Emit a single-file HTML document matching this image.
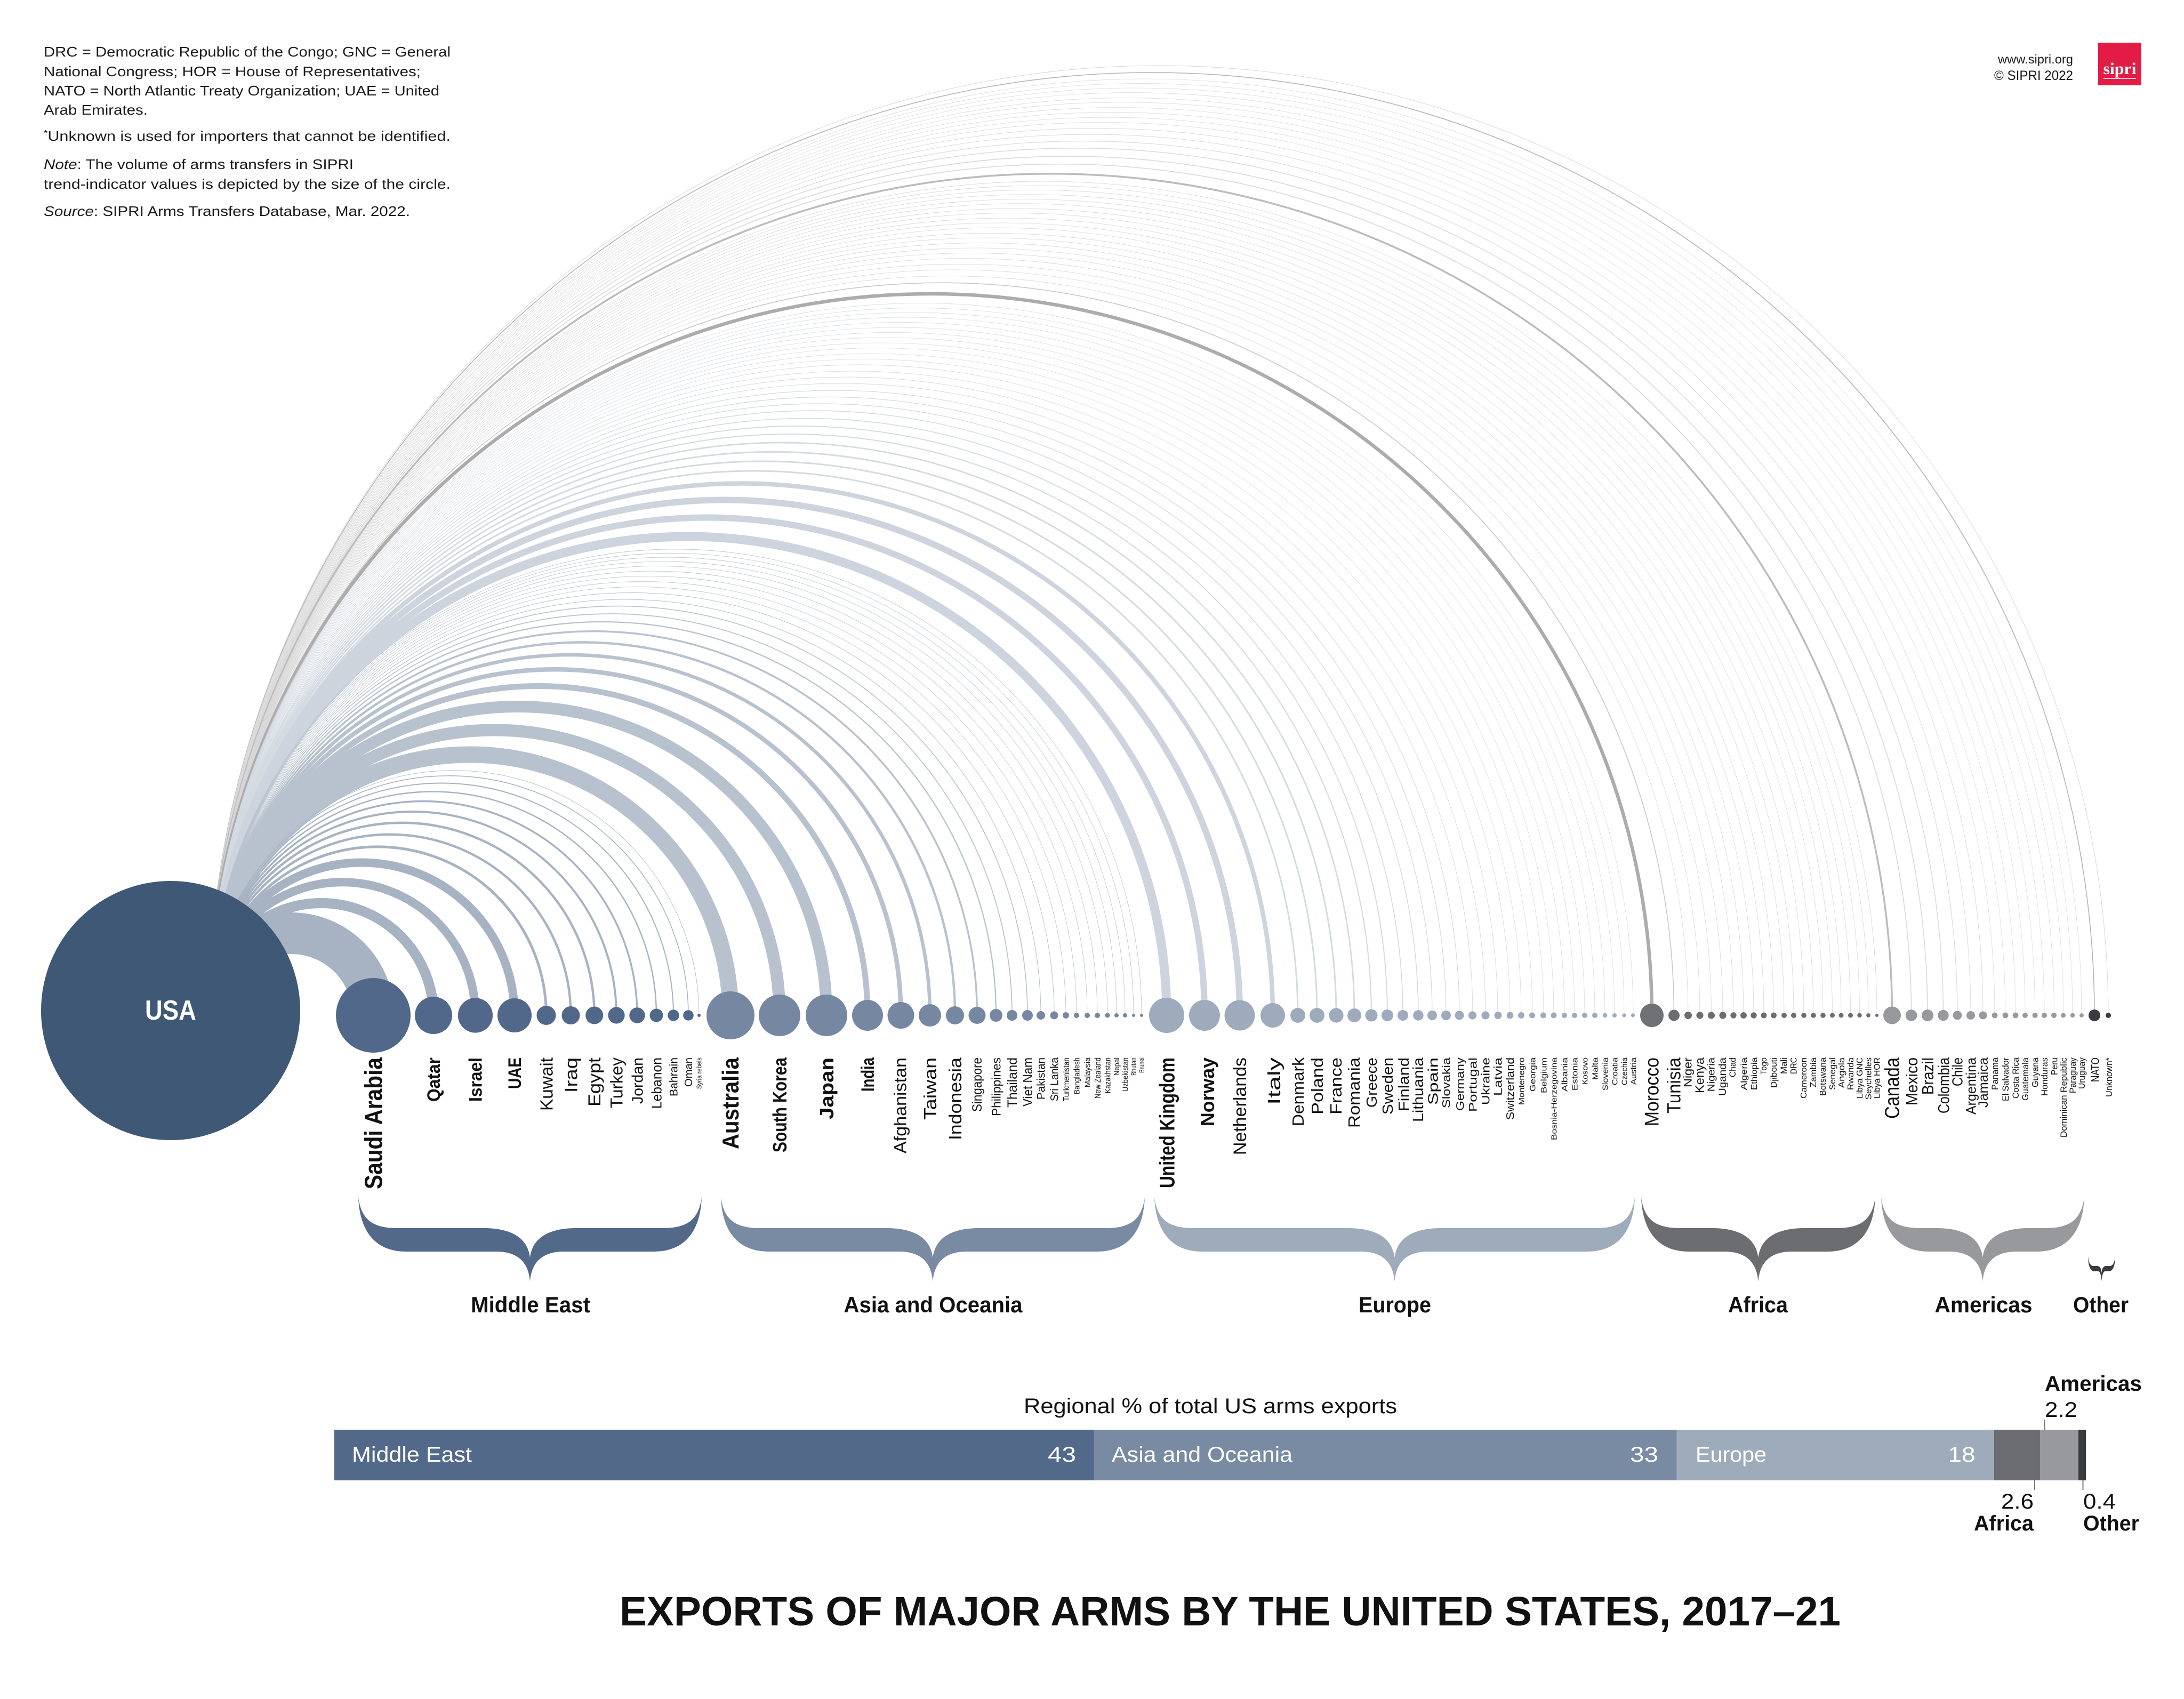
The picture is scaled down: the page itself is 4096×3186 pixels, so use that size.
<!DOCTYPE html>
<html>
<head>
<meta charset="utf-8">
<style>
html,body{margin:0;padding:0;background:#fff;}
svg{display:block;}
</style>
</head>
<body>
<svg xmlns="http://www.w3.org/2000/svg" width="4096" height="3186" viewBox="0 0 4096 3186" font-family="'Liberation Sans', Arial, sans-serif">
<rect width="4096" height="3186" fill="#fff"/>

<!-- Notes top-left -->
<g font-size="26" fill="#1a1a1a">
<text x="82" y="106" textLength="763" lengthAdjust="spacingAndGlyphs">DRC = Democratic Republic of the Congo; GNC = General</text>
<text x="82" y="143" textLength="707" lengthAdjust="spacingAndGlyphs">National Congress; HOR = House of Representatives;</text>
<text x="82" y="179" textLength="742" lengthAdjust="spacingAndGlyphs">NATO = North Atlantic Treaty Organization; UAE = United</text>
<text x="82" y="215" textLength="195" lengthAdjust="spacingAndGlyphs">Arab Emirates.</text>
<text x="82" y="264" textLength="763" lengthAdjust="spacingAndGlyphs"><tspan font-size="16" dy="-9">*</tspan><tspan dy="9">Unknown is used for importers that cannot be identified.</tspan></text>
<text x="82" y="317" textLength="581" lengthAdjust="spacingAndGlyphs"><tspan font-style="italic">Note</tspan>: The volume of arms transfers in SIPRI</text>
<text x="82" y="354" textLength="763" lengthAdjust="spacingAndGlyphs">trend-indicator values is depicted by the size of the circle.</text>
<text x="82" y="405" textLength="687" lengthAdjust="spacingAndGlyphs"><tspan font-style="italic">Source</tspan>: SIPRI Arms Transfers Database, Mar. 2022.</text>
</g>

<!-- Top right -->
<g fill="#1a1a1a" text-anchor="end">
<text x="3888" y="119" font-size="23" textLength="141" lengthAdjust="spacingAndGlyphs">www.sipri.org</text>
<text x="3888" y="150" font-size="25" textLength="148" lengthAdjust="spacingAndGlyphs">© SIPRI 2022</text>
</g>
<rect x="3935" y="80" width="81" height="80" fill="#e31c46"/>
<text x="3975.5" y="139" font-size="31" font-weight="bold" fill="#fff" text-anchor="middle" font-family="'Liberation Serif', serif" textLength="62" lengthAdjust="spacingAndGlyphs">sipri</text>
<line x1="3945" y1="147" x2="4006" y2="147" stroke="#fff" stroke-width="1.5"/>

<!-- ARCS (outer first) -->
<g fill="none">
<!-- Other -->
<path d="M392 1904A1781 1781 0 0 1 3954 1904" stroke="#d4d4d4" stroke-width="0.9"/>
<path d="M392 1904A1768 1768 0 0 1 3928 1904" stroke="#b4b4b4" stroke-width="1.6"/>
<!-- Americas -->
<g stroke="#dadada">
<path d="M392 1904A1756 1756 0 0 1 3904 1904" stroke-width="0.8"/>
<path d="M392 1904A1747.5 1747.5 0 0 1 3887 1904" stroke-width="0.8"/>
<path d="M392 1904A1739 1739 0 0 1 3870 1904" stroke-width="0.8"/>
<path d="M392 1904A1730.3 1730.3 0 0 1 3852.6 1904" stroke-width="0.8"/>
<path d="M392 1904A1721 1721 0 0 1 3834 1904" stroke-width="0.8"/>
<path d="M392 1904A1712.3 1712.3 0 0 1 3816.6 1904" stroke-width="0.8"/>
<path d="M392 1904A1703 1703 0 0 1 3798 1904" stroke-width="0.8"/>
<path d="M392 1904A1694 1694 0 0 1 3780 1904" stroke-width="0.8"/>
<path d="M392 1904A1684.5 1684.5 0 0 1 3761 1904" stroke-width="0.8"/>
<path d="M392 1904A1674.5 1674.5 0 0 1 3741 1904" stroke-width="0.8"/>
<path d="M392 1904A1663.5 1663.5 0 0 1 3719 1904" stroke-width="1"/>
<path d="M392 1904A1652 1652 0 0 1 3696 1904" stroke-width="1"/>
<path d="M392 1904A1639.5 1639.5 0 0 1 3671 1904" stroke-width="1.2"/>
<path d="M392 1904A1626.25 1626.25 0 0 1 3644.5 1904" stroke-width="1.5"/>
<path d="M392 1904A1611.5 1611.5 0 0 1 3615 1904" stroke-width="1.7"/>
<path d="M392 1904A1596.3 1596.3 0 0 1 3584.6 1904" stroke-width="1.7"/>
</g>
<path d="M392 1904A1578.25 1578.25 0 0 1 3548.5 1904" stroke="#bcbcbc" stroke-width="3.5"/>
<!-- Africa -->
<g stroke="#d6d6d6" stroke-width="0.8">
<path d="M392 1904A1564 1564 0 0 1 3520 1904"/>
<path d="M392 1904A1556 1556 0 0 1 3504 1904"/>
<path d="M392 1904A1547.75 1547.75 0 0 1 3487.5 1904"/>
<path d="M392 1904A1539.25 1539.25 0 0 1 3470.5 1904"/>
<path d="M392 1904A1530.5 1530.5 0 0 1 3453 1904"/>
<path d="M392 1904A1522.25 1522.25 0 0 1 3436.5 1904"/>
<path d="M392 1904A1513.5 1513.5 0 0 1 3419 1904"/>
<path d="M392 1904A1504.5 1504.5 0 0 1 3401 1904"/>
<path d="M392 1904A1495.5 1495.5 0 0 1 3383 1904"/>
<path d="M392 1904A1486 1486 0 0 1 3364 1904"/>
<path d="M392 1904A1477 1477 0 0 1 3346 1904"/>
<path d="M392 1904A1467.25 1467.25 0 0 1 3326.5 1904"/>
<path d="M392 1904A1458 1458 0 0 1 3308 1904"/>
<path d="M392 1904A1448.5 1448.5 0 0 1 3289 1904"/>
<path d="M392 1904A1439 1439 0 0 1 3270 1904"/>
<path d="M392 1904A1429.5 1429.5 0 0 1 3251 1904"/>
<path d="M392 1904A1419.5 1419.5 0 0 1 3231 1904"/>
<path d="M392 1904A1408.75 1408.75 0 0 1 3209.5 1904"/>
<path d="M392 1904A1398 1398 0 0 1 3188 1904"/>
<path d="M392 1904A1387 1387 0 0 1 3166 1904"/>
</g>
<path d="M392 1904A1373.75 1373.75 0 0 1 3139.5 1904" stroke="#c8c8c8" stroke-width="1.6"/>
<path d="M392 1904A1353 1353 0 0 1 3098 1904" stroke="#acacac" stroke-width="6.5"/>
<!-- Europe -->
<g stroke="#d4dae2">
<path d="M392 1904A1335.5 1335.5 0 0 1 3063 1904" stroke-width="0.8"/>
<path d="M392 1904A1327 1327 0 0 1 3046 1904" stroke-width="0.8"/>
<path d="M392 1904A1318 1318 0 0 1 3028 1904" stroke-width="0.8"/>
<path d="M392 1904A1309 1309 0 0 1 3010 1904" stroke-width="0.8"/>
<path d="M392 1904A1299.5 1299.5 0 0 1 2991 1904" stroke-width="0.8"/>
<path d="M392 1904A1290 1290 0 0 1 2972 1904" stroke-width="0.8"/>
<path d="M392 1904A1280.5 1280.5 0 0 1 2953 1904" stroke-width="0.8"/>
<path d="M392 1904A1271 1271 0 0 1 2934 1904" stroke-width="0.8"/>
<path d="M392 1904A1261 1261 0 0 1 2914 1904" stroke-width="0.8"/>
<path d="M392 1904A1251.5 1251.5 0 0 1 2895 1904" stroke-width="0.8"/>
<path d="M392 1904A1241 1241 0 0 1 2874 1904" stroke-width="0.8"/>
<path d="M392 1904A1230.5 1230.5 0 0 1 2853 1904" stroke-width="0.8"/>
<path d="M392 1904A1220 1220 0 0 1 2832 1904" stroke-width="0.9"/>
<path d="M392 1904A1208.5 1208.5 0 0 1 2809 1904" stroke-width="0.9"/>
<path d="M392 1904A1197 1197 0 0 1 2786 1904" stroke-width="1"/>
<path d="M392 1904A1185 1185 0 0 1 2762 1904" stroke-width="1"/>
<path d="M392 1904A1172.5 1172.5 0 0 1 2737 1904" stroke-width="1.2"/>
<path d="M392 1904A1160 1160 0 0 1 2712 1904" stroke-width="1.3"/>
<path d="M392 1904A1147 1147 0 0 1 2686 1904" stroke-width="1.3"/>
<path d="M392 1904A1134 1134 0 0 1 2660 1904" stroke-width="1.5"/>
<path d="M392 1904A1119.5 1119.5 0 0 1 2631 1904" stroke-width="1.6"/>
<path d="M392 1904A1105 1105 0 0 1 2602 1904" stroke-width="1.9"/>
<path d="M392 1904A1090 1090 0 0 1 2572 1904" stroke-width="2.1"/>
<path d="M392 1904A1074 1074 0 0 1 2540 1904" stroke-width="2.7"/>
<path d="M392 1904A1057 1057 0 0 1 2506 1904" stroke-width="3"/>
<path d="M392 1904A1039 1039 0 0 1 2470 1904" stroke-width="3"/>
<path d="M392 1904A1021 1021 0 0 1 2434 1904" stroke-width="3"/>
</g>
<g stroke="#cdd4dd">
<path d="M392 1904A997.5 997.5 0 0 1 2387 1904" stroke-width="8.5"/>
<path d="M392 1904A966.5 966.5 0 0 1 2325 1904" stroke-width="12"/>
<path d="M392 1904A933.5 933.5 0 0 1 2259 1904" stroke-width="12"/>
<path d="M392 1904A898 898 0 0 1 2188 1904" stroke-width="17"/>
</g>
<!-- Asia and Oceania -->
<g stroke="#b8c2ce">
<path d="M392 1904A874.5 874.5 0 0 1 2141 1904" stroke-width="0.8"/>
<path d="M392 1904A867 867 0 0 1 2126 1904" stroke-width="0.8"/>
<path d="M392 1904A859 859 0 0 1 2110 1904" stroke-width="0.8"/>
<path d="M392 1904A851 851 0 0 1 2094 1904" stroke-width="0.8"/>
<path d="M392 1904A842.5 842.5 0 0 1 2077 1904" stroke-width="0.8"/>
<path d="M392 1904A833 833 0 0 1 2058 1904" stroke-width="0.8"/>
<path d="M392 1904A823.5 823.5 0 0 1 2039 1904" stroke-width="0.8"/>
<path d="M392 1904A813.5 813.5 0 0 1 2019 1904" stroke-width="0.8"/>
<path d="M392 1904A803.5 803.5 0 0 1 1999 1904" stroke-width="0.8"/>
<path d="M392 1904A792.5 792.5 0 0 1 1977 1904" stroke-width="1"/>
<path d="M392 1904A780 780 0 0 1 1952 1904" stroke-width="1.1"/>
<path d="M392 1904A767.5 767.5 0 0 1 1927 1904" stroke-width="1.6"/>
<path d="M392 1904A753 753 0 0 1 1898 1904" stroke-width="1.7"/>
<path d="M392 1904A738 738 0 0 1 1868 1904" stroke-width="2.3"/>
<path d="M392 1904A720.25 720.25 0 0 1 1832.5 1904" stroke-width="3.5"/>
<path d="M392 1904A699.5 699.5 0 0 1 1791 1904" stroke-width="4.5"/>
<path d="M392 1904A676 676 0 0 1 1744 1904" stroke-width="6.5"/>
<path d="M392 1904A648.75 648.75 0 0 1 1689.5 1904" stroke-width="8.5"/>
<path d="M392 1904A617.5 617.5 0 0 1 1627 1904" stroke-width="11"/>
<path d="M392 1904A579 579 0 0 1 1550 1904" stroke-width="22"/>
<path d="M392 1904A535 535 0 0 1 1462 1904" stroke-width="23"/>
<path d="M392 1904A489 489 0 0 1 1370 1904" stroke-width="31"/>
</g>
<!-- Middle East -->
<g stroke="#a7b3c2">
<path d="M392 1904A459.5 459.5 0 0 1 1311 1904" stroke-width="0.8"/>
<path d="M392 1904A449.5 449.5 0 0 1 1291 1904" stroke-width="1.5"/>
<path d="M392 1904A435.5 435.5 0 0 1 1263 1904" stroke-width="2"/>
<path d="M392 1904A419.5 419.5 0 0 1 1231 1904" stroke-width="2.5"/>
<path d="M392 1904A401.5 401.5 0 0 1 1195 1904" stroke-width="3.5"/>
<path d="M392 1904A382 382 0 0 1 1156 1904" stroke-width="4"/>
<path d="M392 1904A361.35 361.35 0 0 1 1114.7 1904" stroke-width="4.5"/>
<path d="M392 1904A339.25 339.25 0 0 1 1070.5 1904" stroke-width="4.5"/>
<path d="M392 1904A316.25 316.25 0 0 1 1024.5 1904" stroke-width="5"/>
<path d="M392 1904A286.5 286.5 0 0 1 965 1904" stroke-width="16"/>
<path d="M392 1904A249.75 249.75 0 0 1 891.5 1904" stroke-width="16"/>
<path d="M392 1904A210.5 210.5 0 0 1 813 1904" stroke-width="19"/>
<path d="M392 1904A154 154 0 0 1 700 1904" stroke-width="78"/>
</g>
</g>

<!-- USA -->
<circle cx="320" cy="1895" r="243" fill="#3e5876"/>
<text x="320" y="1912" font-size="52" font-weight="bold" fill="#fff" text-anchor="middle" textLength="96" lengthAdjust="spacingAndGlyphs">USA</text>

<!-- Circles -->
<g fill="#51688a">
<circle cx="700" cy="1904" r="70"/><circle cx="813" cy="1904" r="35"/><circle cx="891.5" cy="1904" r="32.6"/><circle cx="965" cy="1904" r="32"/>
<circle cx="1024.5" cy="1904" r="18"/><circle cx="1070.5" cy="1904" r="17"/><circle cx="1114.7" cy="1904" r="16.5"/><circle cx="1156" cy="1904" r="15.6"/>
<circle cx="1195" cy="1904" r="14.7"/><circle cx="1231" cy="1904" r="12.5"/><circle cx="1263" cy="1904" r="10.7"/><circle cx="1291" cy="1904" r="9.8"/><circle cx="1311" cy="1904" r="3"/>
</g>
<g fill="#7688a1">
<circle cx="1370" cy="1904" r="45"/><circle cx="1462" cy="1904" r="39"/><circle cx="1550" cy="1904" r="39"/><circle cx="1627" cy="1904" r="29"/>
<circle cx="1689.5" cy="1904" r="25"/><circle cx="1744" cy="1904" r="21"/><circle cx="1791" cy="1904" r="17"/><circle cx="1832.5" cy="1904" r="16"/>
<circle cx="1868" cy="1904" r="12"/><circle cx="1898" cy="1904" r="10"/><circle cx="1927" cy="1904" r="10"/><circle cx="1952" cy="1904" r="8"/>
<circle cx="1977" cy="1904" r="7.5"/><circle cx="1999" cy="1904" r="6"/><circle cx="2019" cy="1904" r="5"/><circle cx="2039" cy="1904" r="5"/>
<circle cx="2058" cy="1904" r="5"/><circle cx="2077" cy="1904" r="4.5"/><circle cx="2094" cy="1904" r="4"/><circle cx="2110" cy="1904" r="4"/>
<circle cx="2126" cy="1904" r="3"/><circle cx="2141" cy="1904" r="3"/>
</g>
<g fill="#9eabbc">
<circle cx="2188" cy="1904" r="33"/><circle cx="2259" cy="1904" r="29"/><circle cx="2325" cy="1904" r="28.5"/><circle cx="2387" cy="1904" r="23"/>
<circle cx="2434" cy="1904" r="14"/><circle cx="2470" cy="1904" r="14"/><circle cx="2506" cy="1904" r="13.6"/><circle cx="2540" cy="1904" r="13"/>
<circle cx="2572" cy="1904" r="11.5"/><circle cx="2602" cy="1904" r="11"/><circle cx="2631" cy="1904" r="10"/><circle cx="2660" cy="1904" r="9.7"/>
<circle cx="2686" cy="1904" r="9"/><circle cx="2712" cy="1904" r="9"/><circle cx="2737" cy="1904" r="8.5"/><circle cx="2761.5" cy="1904" r="7.6"/>
<circle cx="2786" cy="1904" r="7.6"/><circle cx="2809.5" cy="1904" r="7"/><circle cx="2832" cy="1904" r="6.4"/><circle cx="2853" cy="1904" r="6"/>
<circle cx="2873.5" cy="1904" r="5.5"/><circle cx="2894.5" cy="1904" r="5.5"/><circle cx="2914" cy="1904" r="5.5"/><circle cx="2934" cy="1904" r="5"/>
<circle cx="2953" cy="1904" r="5"/><circle cx="2972" cy="1904" r="5"/><circle cx="2991" cy="1904" r="5"/><circle cx="3010" cy="1904" r="4.3"/>
<circle cx="3028" cy="1904" r="4"/><circle cx="3046" cy="1904" r="3.6"/><circle cx="3062.5" cy="1904" r="3.6"/>
</g>
<g fill="#6c6d71">
<circle cx="3098" cy="1904" r="22" fill="#707175"/><circle cx="3139.5" cy="1904" r="10.5"/><circle cx="3166" cy="1904" r="7"/><circle cx="3188" cy="1904" r="6.6"/>
<circle cx="3209.5" cy="1904" r="6.6"/><circle cx="3231" cy="1904" r="6.6"/><circle cx="3251" cy="1904" r="5.7"/><circle cx="3270" cy="1904" r="6"/>
<circle cx="3289" cy="1904" r="5.7"/><circle cx="3308" cy="1904" r="5.4"/><circle cx="3326.5" cy="1904" r="5.4"/><circle cx="3346" cy="1904" r="5"/>
<circle cx="3364" cy="1904" r="5"/><circle cx="3383" cy="1904" r="4.8"/><circle cx="3401" cy="1904" r="4.8"/><circle cx="3419" cy="1904" r="4.8"/>
<circle cx="3436.5" cy="1904" r="4.5"/><circle cx="3453" cy="1904" r="4.5"/><circle cx="3470.5" cy="1904" r="4.5"/><circle cx="3487.5" cy="1904" r="4.2"/>
<circle cx="3504" cy="1904" r="3.9"/><circle cx="3520" cy="1904" r="3"/>
</g>
<g fill="#98999c">
<circle cx="3548.5" cy="1904" r="16.5"/><circle cx="3584.6" cy="1904" r="10.8"/><circle cx="3615" cy="1904" r="11"/><circle cx="3644.5" cy="1904" r="10.2"/>
<circle cx="3671" cy="1904" r="8.4"/><circle cx="3696" cy="1904" r="8"/><circle cx="3719" cy="1904" r="7.5"/><circle cx="3741" cy="1904" r="5.4"/>
<circle cx="3761" cy="1904" r="5.4"/><circle cx="3780" cy="1904" r="5.4"/><circle cx="3798" cy="1904" r="5"/><circle cx="3816.6" cy="1904" r="5"/>
<circle cx="3834" cy="1904" r="5"/><circle cx="3852" cy="1904" r="5"/><circle cx="3869.5" cy="1904" r="4.5"/><circle cx="3887" cy="1904" r="4.2"/><circle cx="3904" cy="1904" r="3.9"/>
</g>
<g fill="#3a3b3f">
<circle cx="3928" cy="1904" r="11"/><circle cx="3954" cy="1904" r="5"/>
</g>

<!-- Country labels -->
<g fill="#111">
<g font-weight="bold">
<text transform="translate(716.6,2230) rotate(-90)" font-size="46" textLength="247" lengthAdjust="spacingAndGlyphs">Saudi Arabia</text>
<text transform="translate(825.2,2066) rotate(-90)" font-size="34" textLength="83" lengthAdjust="spacingAndGlyphs">Qatar</text>
<text transform="translate(903.7,2066) rotate(-90)" font-size="34" textLength="83" lengthAdjust="spacingAndGlyphs">Israel</text>
<text transform="translate(977.2,2042) rotate(-90)" font-size="34" textLength="59" lengthAdjust="spacingAndGlyphs">UAE</text>
<text transform="translate(1384.8,2155) rotate(-90)" font-size="44" textLength="172" lengthAdjust="spacingAndGlyphs">Australia</text>
<text transform="translate(1475,2161) rotate(-90)" font-size="36" textLength="178" lengthAdjust="spacingAndGlyphs">South Korea</text>
<text transform="translate(1563,2099) rotate(-90)" font-size="36" textLength="116" lengthAdjust="spacingAndGlyphs">Japan</text>
<text transform="translate(1639.2,2047) rotate(-90)" font-size="34" textLength="64" lengthAdjust="spacingAndGlyphs">India</text>
<text transform="translate(2202.4,2228) rotate(-90)" font-size="40" textLength="245" lengthAdjust="spacingAndGlyphs">United Kingdom</text>
<text transform="translate(2277,2112) rotate(-90)" font-size="36" textLength="129" lengthAdjust="spacingAndGlyphs">Norway</text>
</g>
<text transform="translate(1036.4,2083) rotate(-90)" font-size="33" textLength="100" lengthAdjust="spacingAndGlyphs">Kuwait</text>
<text transform="translate(1082.4,2049) rotate(-90)" font-size="33" textLength="66" lengthAdjust="spacingAndGlyphs">Iraq</text>
<text transform="translate(1126.2,2075) rotate(-90)" font-size="32" textLength="92" lengthAdjust="spacingAndGlyphs">Egypt</text>
<text transform="translate(1167.5,2078) rotate(-90)" font-size="32" textLength="95" lengthAdjust="spacingAndGlyphs">Turkey</text>
<text transform="translate(1205.4,2070) rotate(-90)" font-size="29" textLength="87" lengthAdjust="spacingAndGlyphs">Jordan</text>
<text transform="translate(1240.4,2079) rotate(-90)" font-size="26" textLength="96" lengthAdjust="spacingAndGlyphs">Lebanon</text>
<text transform="translate(1270.6,2056) rotate(-90)" font-size="21" textLength="73" lengthAdjust="spacingAndGlyphs">Bahrain</text>
<text transform="translate(1298.2,2038) rotate(-90)" font-size="20" textLength="55" lengthAdjust="spacingAndGlyphs">Oman</text>
<text transform="translate(1315.7,2042) rotate(-90)" font-size="13" textLength="59" lengthAdjust="spacingAndGlyphs">Syria rebels</text>

<text transform="translate(1699.5,2163) rotate(-90)" font-size="32" textLength="180" lengthAdjust="spacingAndGlyphs">Afghanistan</text>
<text transform="translate(1755.9,2100) rotate(-90)" font-size="33" textLength="117" lengthAdjust="spacingAndGlyphs">Taiwan</text>
<text transform="translate(1802.9,2138) rotate(-90)" font-size="33" textLength="155" lengthAdjust="spacingAndGlyphs">Indonesia</text>
<text transform="translate(1841,2085) rotate(-90)" font-size="25" textLength="102" lengthAdjust="spacingAndGlyphs">Singapore</text>
<text transform="translate(1876.3,2093) rotate(-90)" font-size="23" textLength="110" lengthAdjust="spacingAndGlyphs">Philippines</text>
<text transform="translate(1907,2077) rotate(-90)" font-size="25" textLength="94" lengthAdjust="spacingAndGlyphs">Thailand</text>
<text transform="translate(1936,2075) rotate(-90)" font-size="25" textLength="92" lengthAdjust="spacingAndGlyphs">Viet Nam</text>
<text transform="translate(1959.6,2062) rotate(-90)" font-size="21" textLength="79" lengthAdjust="spacingAndGlyphs">Pakistan</text>
<text transform="translate(1984.6,2065) rotate(-90)" font-size="21" textLength="82" lengthAdjust="spacingAndGlyphs">Sri Lanka</text>
<text transform="translate(2004.8,2065) rotate(-90)" font-size="16" textLength="82" lengthAdjust="spacingAndGlyphs">Turkmenistan</text>
<text transform="translate(2024.4,2052) rotate(-90)" font-size="15" textLength="69" lengthAdjust="spacingAndGlyphs">Bangladesh</text>
<text transform="translate(2044.4,2039) rotate(-90)" font-size="15" textLength="56" lengthAdjust="spacingAndGlyphs">Malaysia</text>
<text transform="translate(2063.8,2060) rotate(-90)" font-size="16" textLength="77" lengthAdjust="spacingAndGlyphs">New Zealand</text>
<text transform="translate(2082.4,2050) rotate(-90)" font-size="15" textLength="67" lengthAdjust="spacingAndGlyphs">Kazakhstan</text>
<text transform="translate(2099,2017) rotate(-90)" font-size="14" textLength="34" lengthAdjust="spacingAndGlyphs">Nepal</text>
<text transform="translate(2115.4,2047) rotate(-90)" font-size="15" textLength="64" lengthAdjust="spacingAndGlyphs">Uzbekistan</text>
<text transform="translate(2131,2017) rotate(-90)" font-size="14" textLength="34" lengthAdjust="spacingAndGlyphs">Bhutan</text>
<text transform="translate(2146,2012) rotate(-90)" font-size="14" textLength="29" lengthAdjust="spacingAndGlyphs">Brunei</text>

<text transform="translate(2337.2,2166) rotate(-90)" font-size="34" textLength="183" lengthAdjust="spacingAndGlyphs">Netherlands</text>
<text transform="translate(2400.9,2072) rotate(-90)" font-size="33" textLength="89" lengthAdjust="spacingAndGlyphs">Italy</text>
<text transform="translate(2445.2,2112) rotate(-90)" font-size="31" textLength="129" lengthAdjust="spacingAndGlyphs">Denmark</text>
<text transform="translate(2481.2,2090) rotate(-90)" font-size="31" textLength="107" lengthAdjust="spacingAndGlyphs">Poland</text>
<text transform="translate(2516.2,2090) rotate(-90)" font-size="31" textLength="107" lengthAdjust="spacingAndGlyphs">France</text>
<text transform="translate(2550.2,2115) rotate(-90)" font-size="31" textLength="132" lengthAdjust="spacingAndGlyphs">Romania</text>
<text transform="translate(2582,2077) rotate(-90)" font-size="28" textLength="94" lengthAdjust="spacingAndGlyphs">Greece</text>
<text transform="translate(2612,2090) rotate(-90)" font-size="28" textLength="107" lengthAdjust="spacingAndGlyphs">Sweden</text>
<text transform="translate(2642,2084) rotate(-90)" font-size="28" textLength="101" lengthAdjust="spacingAndGlyphs">Finland</text>
<text transform="translate(2669,2104) rotate(-90)" font-size="28" textLength="121" lengthAdjust="spacingAndGlyphs">Lithuania</text>
<text transform="translate(2696.4,2072) rotate(-90)" font-size="26" textLength="89" lengthAdjust="spacingAndGlyphs">Spain</text>
<text transform="translate(2719.6,2078) rotate(-90)" font-size="21" textLength="95" lengthAdjust="spacingAndGlyphs">Slovakia</text>
<text transform="translate(2745.6,2083) rotate(-90)" font-size="21" textLength="100" lengthAdjust="spacingAndGlyphs">Germany</text>
<text transform="translate(2769.6,2085) rotate(-90)" font-size="21" textLength="102" lengthAdjust="spacingAndGlyphs">Portugal</text>
<text transform="translate(2793.6,2072) rotate(-90)" font-size="21" textLength="89" lengthAdjust="spacingAndGlyphs">Ukraine</text>
<text transform="translate(2816.6,2055) rotate(-90)" font-size="21" textLength="72" lengthAdjust="spacingAndGlyphs">Latvia</text>
<text transform="translate(2839.6,2100) rotate(-90)" font-size="21" textLength="117" lengthAdjust="spacingAndGlyphs">Switzerland</text>
<text transform="translate(2858.4,2072) rotate(-90)" font-size="15" textLength="89" lengthAdjust="spacingAndGlyphs">Montenegro</text>
<text transform="translate(2879.4,2047) rotate(-90)" font-size="15" textLength="64" lengthAdjust="spacingAndGlyphs">Georgia</text>
<text transform="translate(2900.4,2050) rotate(-90)" font-size="15" textLength="67" lengthAdjust="spacingAndGlyphs">Belgium</text>
<text transform="translate(2919.4,2138) rotate(-90)" font-size="15" textLength="155" lengthAdjust="spacingAndGlyphs">Bosnia-Herzegovina</text>
<text transform="translate(2939.4,2047) rotate(-90)" font-size="15" textLength="64" lengthAdjust="spacingAndGlyphs">Albania</text>
<text transform="translate(2958.4,2045) rotate(-90)" font-size="15" textLength="62" lengthAdjust="spacingAndGlyphs">Estonia</text>
<text transform="translate(2977.4,2034) rotate(-90)" font-size="15" textLength="51" lengthAdjust="spacingAndGlyphs">Kosovo</text>
<text transform="translate(2996.4,2025) rotate(-90)" font-size="15" textLength="42" lengthAdjust="spacingAndGlyphs">Malta</text>
<text transform="translate(3015.4,2045) rotate(-90)" font-size="15" textLength="62" lengthAdjust="spacingAndGlyphs">Slovenia</text>
<text transform="translate(3033.4,2035) rotate(-90)" font-size="15" textLength="52" lengthAdjust="spacingAndGlyphs">Croatia</text>
<text transform="translate(3051.4,2035) rotate(-90)" font-size="15" textLength="52" lengthAdjust="spacingAndGlyphs">Czechia</text>
<text transform="translate(3068.4,2034) rotate(-90)" font-size="15" textLength="51" lengthAdjust="spacingAndGlyphs">Austria</text>

<text transform="translate(3110.3,2112) rotate(-90)" font-size="37" textLength="129" lengthAdjust="spacingAndGlyphs">Morocco</text>
<text transform="translate(3151.6,2088) rotate(-90)" font-size="35" textLength="105" lengthAdjust="spacingAndGlyphs">Tunisia</text>
<text transform="translate(3172.6,2039) rotate(-90)" font-size="21" textLength="56" lengthAdjust="spacingAndGlyphs">Niger</text>
<text transform="translate(3195.3,2050) rotate(-90)" font-size="23" textLength="67" lengthAdjust="spacingAndGlyphs">Kenya</text>
<text transform="translate(3215.5,2047) rotate(-90)" font-size="18" textLength="64" lengthAdjust="spacingAndGlyphs">Nigeria</text>
<text transform="translate(3236.8,2055) rotate(-90)" font-size="19" textLength="72" lengthAdjust="spacingAndGlyphs">Uganda</text>
<text transform="translate(3255.1,2020) rotate(-90)" font-size="17" textLength="37" lengthAdjust="spacingAndGlyphs">Chad</text>
<text transform="translate(3275.8,2044) rotate(-90)" font-size="16" textLength="61" lengthAdjust="spacingAndGlyphs">Algeria</text>
<text transform="translate(3294.8,2044) rotate(-90)" font-size="16" textLength="61" lengthAdjust="spacingAndGlyphs">Ethiopia</text>
<text transform="translate(3312.8,2015) rotate(-90)" font-size="16" textLength="32" lengthAdjust="spacingAndGlyphs">Togo</text>
<text transform="translate(3331.8,2040) rotate(-90)" font-size="16" textLength="57" lengthAdjust="spacingAndGlyphs">Djibouti</text>
<text transform="translate(3351.1,2014) rotate(-90)" font-size="17" textLength="31" lengthAdjust="spacingAndGlyphs">Mali</text>
<text transform="translate(3369.6,2014) rotate(-90)" font-size="17" textLength="31" lengthAdjust="spacingAndGlyphs">DRC</text>
<text transform="translate(3387.8,2060) rotate(-90)" font-size="16" textLength="77" lengthAdjust="spacingAndGlyphs">Cameroon</text>
<text transform="translate(3405.8,2039) rotate(-90)" font-size="16" textLength="56" lengthAdjust="spacingAndGlyphs">Zambia</text>
<text transform="translate(3423.8,2055) rotate(-90)" font-size="16" textLength="72" lengthAdjust="spacingAndGlyphs">Botswana</text>
<text transform="translate(3441.8,2044) rotate(-90)" font-size="16" textLength="61" lengthAdjust="spacingAndGlyphs">Senegal</text>
<text transform="translate(3458.8,2040) rotate(-90)" font-size="16" textLength="57" lengthAdjust="spacingAndGlyphs">Angola</text>
<text transform="translate(3475.8,2044) rotate(-90)" font-size="16" textLength="61" lengthAdjust="spacingAndGlyphs">Rwanda</text>
<text transform="translate(3492.8,2060) rotate(-90)" font-size="16" textLength="77" lengthAdjust="spacingAndGlyphs">Libya GNC</text>
<text transform="translate(3509.3,2062) rotate(-90)" font-size="16" textLength="79" lengthAdjust="spacingAndGlyphs">Seychelles</text>
<text transform="translate(3525.3,2060) rotate(-90)" font-size="16" textLength="77" lengthAdjust="spacingAndGlyphs">Libya HOR</text>

<text transform="translate(3561.7,2098) rotate(-90)" font-size="38" textLength="115" lengthAdjust="spacingAndGlyphs">Canada</text>
<text transform="translate(3595.8,2073) rotate(-90)" font-size="31" textLength="90" lengthAdjust="spacingAndGlyphs">Mexico</text>
<text transform="translate(3626.2,2053) rotate(-90)" font-size="31" textLength="70" lengthAdjust="spacingAndGlyphs">Brazil</text>
<text transform="translate(3655.3,2088) rotate(-90)" font-size="30" textLength="105" lengthAdjust="spacingAndGlyphs">Colombia</text>
<text transform="translate(3680.6,2037) rotate(-90)" font-size="28" textLength="54" lengthAdjust="spacingAndGlyphs">Chile</text>
<text transform="translate(3705.4,2090) rotate(-90)" font-size="26" textLength="107" lengthAdjust="spacingAndGlyphs">Argentina</text>
<text transform="translate(3728,2077) rotate(-90)" font-size="25" textLength="94" lengthAdjust="spacingAndGlyphs">Jamaica</text>
<text transform="translate(3747.1,2044) rotate(-90)" font-size="17" textLength="61" lengthAdjust="spacingAndGlyphs">Panama</text>
<text transform="translate(3767.1,2065) rotate(-90)" font-size="17" textLength="82" lengthAdjust="spacingAndGlyphs">El Salvador</text>
<text transform="translate(3786.1,2060) rotate(-90)" font-size="17" textLength="77" lengthAdjust="spacingAndGlyphs">Costa Rica</text>
<text transform="translate(3804.1,2064) rotate(-90)" font-size="17" textLength="81" lengthAdjust="spacingAndGlyphs">Guatemala</text>
<text transform="translate(3822.6,2039) rotate(-90)" font-size="17" textLength="56" lengthAdjust="spacingAndGlyphs">Guyana</text>
<text transform="translate(3840.1,2055) rotate(-90)" font-size="17" textLength="72" lengthAdjust="spacingAndGlyphs">Honduras</text>
<text transform="translate(3858.6,2016) rotate(-90)" font-size="17" textLength="33" lengthAdjust="spacingAndGlyphs">Peru</text>
<text transform="translate(3876.1,2133) rotate(-90)" font-size="17" textLength="150" lengthAdjust="spacingAndGlyphs">Dominican Republic</text>
<text transform="translate(3893.1,2050) rotate(-90)" font-size="17" textLength="67" lengthAdjust="spacingAndGlyphs">Paraguay</text>
<text transform="translate(3910.1,2042) rotate(-90)" font-size="17" textLength="59" lengthAdjust="spacingAndGlyphs">Uruguay</text>

<text transform="translate(3936.6,2029) rotate(-90)" font-size="21" textLength="46" lengthAdjust="spacingAndGlyphs">NATO</text>
<text transform="translate(3961.1,2057) rotate(-90)" font-size="17" textLength="74" lengthAdjust="spacingAndGlyphs">Unknown*</text>
</g>

<!-- Braces -->
<path fill="#52698a" d="M672,2245 C674,2300 697,2347 762,2347 L931,2347 C969,2347 991,2365 994,2403 C997,2365 1019,2347 1057,2347 L1226,2347 C1291,2347 1314,2300 1316,2245 C1310,2290 1286,2303 1242,2303 L1081,2303 C1034,2303 999,2318 994,2358 C989,2318 954,2303 907,2303 L746,2303 C702,2303 678,2290 672,2245 Z"/>
<path fill="#798aa3" d="M1352,2245 C1354,2300 1377,2347 1442,2347 L1686.5,2347 C1724.5,2347 1746.5,2365 1749.5,2403 C1752.5,2365 1774.5,2347 1812.5,2347 L2057,2347 C2122,2347 2145,2300 2147,2245 C2141,2290 2117,2303 2073,2303 L1836.5,2303 C1789.5,2303 1754.5,2318 1749.5,2358 C1744.5,2318 1709.5,2303 1662.5,2303 L1426,2303 C1382,2303 1358,2290 1352,2245 Z"/>
<path fill="#9eabbb" d="M2165,2245 C2167,2300 2190,2347 2255,2347 L2552.5,2347 C2590.5,2347 2612.5,2365 2615.5,2403 C2618.5,2365 2640.5,2347 2678.5,2347 L2976,2347 C3041,2347 3064,2300 3066,2245 C3060,2290 3036,2303 2992,2303 L2702.5,2303 C2655.5,2303 2620.5,2318 2615.5,2358 C2610.5,2318 2575.5,2303 2528.5,2303 L2239,2303 C2195,2303 2171,2290 2165,2245 Z"/>
<path fill="#6c6d71" d="M3078,2245 C3080,2300 3103,2347 3168,2347 L3234.5,2347 C3272.5,2347 3294.5,2365 3297.5,2403 C3300.5,2365 3322.5,2347 3360.5,2347 L3427,2347 C3492,2347 3515,2300 3517,2245 C3511,2290 3487,2303 3443,2303 L3384.5,2303 C3337.5,2303 3302.5,2318 3297.5,2358 C3292.5,2318 3257.5,2303 3210.5,2303 L3152,2303 C3108,2303 3084,2290 3078,2245 Z"/>
<path fill="#98999c" d="M3528,2245 C3530,2300 3553,2347 3618,2347 L3655.5,2347 C3693.5,2347 3715.5,2365 3718.5,2403 C3721.5,2365 3743.5,2347 3781.5,2347 L3819,2347 C3884,2347 3907,2300 3909,2245 C3903,2290 3879,2303 3835,2303 L3805.5,2303 C3758.5,2303 3723.5,2318 3718.5,2358 C3713.5,2318 3678.5,2303 3631.5,2303 L3602,2303 C3558,2303 3534,2290 3528,2245 Z"/>
<path fill="#3a3b3f" d="M3916,2356 C3916,2372 3920,2384 3928,2384 L3936,2384 C3939,2386 3941,2392 3941.5,2403 C3942,2392 3944,2386 3947,2384 L3955,2384 C3963,2384 3967,2372 3967,2356 C3966,2368 3962,2374 3957,2374 L3950,2374 C3945,2374 3942,2378 3941.5,2388 C3941,2378 3938,2374 3933,2374 L3926,2374 C3921,2374 3917,2368 3916,2356 Z"/>

<!-- Region labels -->
<g font-size="42" font-weight="bold" fill="#111" text-anchor="middle">
<text x="995" y="2461" textLength="224" lengthAdjust="spacingAndGlyphs">Middle East</text>
<text x="1750" y="2461" textLength="335" lengthAdjust="spacingAndGlyphs">Asia and Oceania</text>
<text x="2616" y="2461" textLength="136" lengthAdjust="spacingAndGlyphs">Europe</text>
<text x="3297" y="2461" textLength="112" lengthAdjust="spacingAndGlyphs">Africa</text>
<text x="3720" y="2461" textLength="183" lengthAdjust="spacingAndGlyphs">Americas</text>
<text x="3940" y="2461" textLength="104" lengthAdjust="spacingAndGlyphs">Other</text>
</g>

<!-- Bar -->
<text x="1920" y="2650" font-size="40" fill="#111" textLength="700" lengthAdjust="spacingAndGlyphs">Regional % of total US arms exports</text>
<rect x="627" y="2681" width="1424.5" height="95" fill="#52698a"/>
<rect x="2051.5" y="2681" width="1093" height="95" fill="#798aa3"/>
<rect x="3144.5" y="2681" width="595.5" height="95" fill="#9eabbb"/>
<rect x="3740" y="2681" width="86" height="95" fill="#6c6d71"/>
<rect x="3826" y="2681" width="72" height="95" fill="#98999c"/>
<rect x="3898" y="2681" width="14" height="95" fill="#3a3b3f"/>
<g font-size="40" fill="#fff">
<text x="660" y="2741" textLength="225" lengthAdjust="spacingAndGlyphs">Middle East</text>
<text x="1965" y="2741" textLength="53" lengthAdjust="spacingAndGlyphs">43</text>
<text x="2085" y="2741" textLength="339" lengthAdjust="spacingAndGlyphs">Asia and Oceania</text>
<text x="3057" y="2741" textLength="53" lengthAdjust="spacingAndGlyphs">33</text>
<text x="3180" y="2741" textLength="133" lengthAdjust="spacingAndGlyphs">Europe</text>
<text x="3653.5" y="2741" textLength="51" lengthAdjust="spacingAndGlyphs">18</text>
</g>
<g stroke="#777" stroke-width="2">
<line x1="3834.5" y1="2662" x2="3834.5" y2="2681"/>
<line x1="3816" y1="2776" x2="3816" y2="2794"/>
<line x1="3906.5" y1="2776" x2="3906.5" y2="2794"/>
</g>
<g font-size="40" fill="#111">
<text x="3835" y="2608" font-weight="bold" textLength="182" lengthAdjust="spacingAndGlyphs">Americas</text>
<text x="3835" y="2657" textLength="61" lengthAdjust="spacingAndGlyphs">2.2</text>
<text x="3753" y="2829" textLength="61" lengthAdjust="spacingAndGlyphs">2.6</text>
<text x="3702" y="2870" font-weight="bold" textLength="112" lengthAdjust="spacingAndGlyphs">Africa</text>
<text x="3907" y="2829" textLength="61" lengthAdjust="spacingAndGlyphs">0.4</text>
<text x="3907" y="2870" font-weight="bold" textLength="105" lengthAdjust="spacingAndGlyphs">Other</text>
</g>

<!-- Title -->
<text x="1162" y="3048" font-size="77" font-weight="bold" fill="#111" textLength="2290" lengthAdjust="spacingAndGlyphs">EXPORTS OF MAJOR ARMS BY THE UNITED STATES, 2017–21</text>
</svg>
</body>
</html>
